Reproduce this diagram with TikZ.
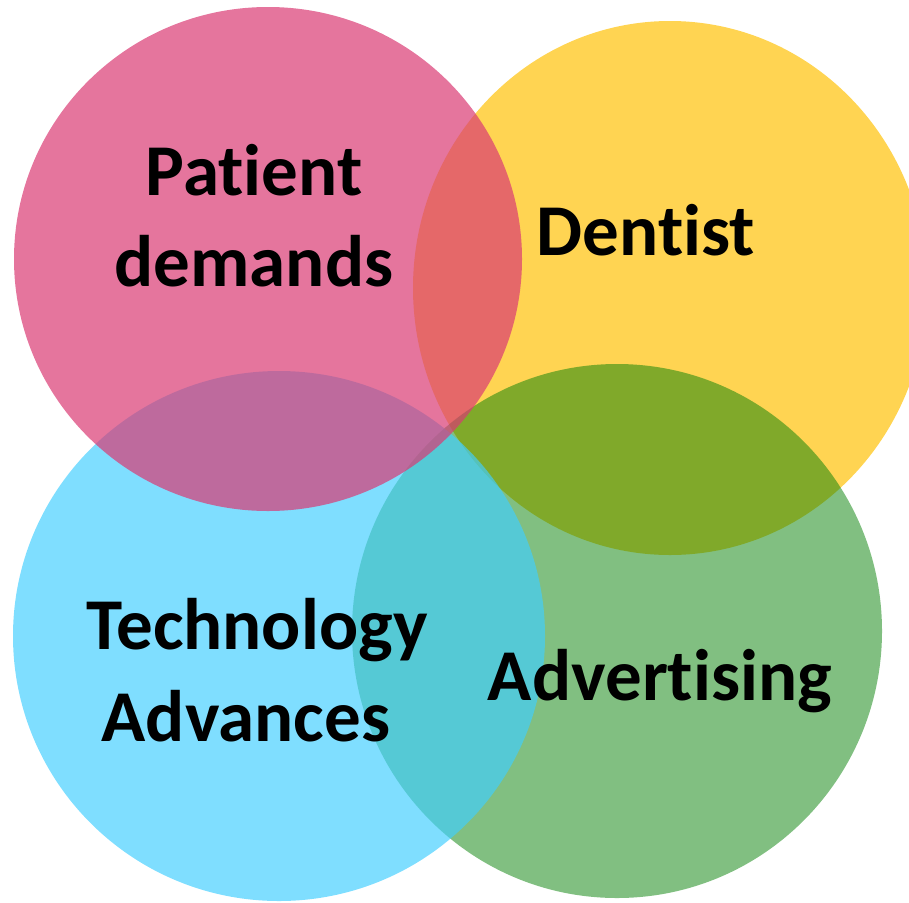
\documentclass[tikz,border=0pt]{standalone}
\usepackage{fontspec}
\setmainfont{Carlito}[Ligatures={NoCommon}]
\usetikzlibrary{calc,positioning}
\definecolor{color_pink}{HTML}{DA3A74}
\definecolor{color_yellow}{HTML}{FFC000}
\definecolor{color_green}{HTML}{038003}
\definecolor{color_blue}{HTML}{40CEFF}

\begin{document}
\begin{tikzpicture}[x=1pt,y=-1pt,every node/.style={inner sep=0,anchor=base,font=\fontsize{73}{91}\selectfont\bfseries}]
	\useasboundingbox (0, 0) rectangle (909, 902);
	% Centres
	\coordinate (PC) at (268, 259);
	\coordinate (YC) at (670, 288);
	\coordinate (GC) at (617, 631);
	\coordinate (BC) at (279, 636);

	% Circles
	\fill[color_yellow,fill opacity=0.68]
		(YC) ellipse [x radius=257, y radius=267];
	\fill[color_green,fill opacity=0.5]
		(GC) ellipse [x radius=265, y radius=267];
	\fill[color_blue,fill opacity=0.67]
		(BC) ellipse [x radius=266, y radius=265];
	\fill[color_pink,fill opacity=0.7]
		(PC) ellipse [x radius=254, y radius=252];

	% Labels
	\node (patient) at (254, 195) {Patient};
	\node (demands) at (254, 286) {demands};
	\node (dentist) at (646, 255) {Dentist};
	\node (technology) at (257, 649) {Technology};
	\node (advances) at (246, 741) {Advances};
	\node (advertising) at (660, 700) {Advertising};
\end{tikzpicture}
\end{document}
